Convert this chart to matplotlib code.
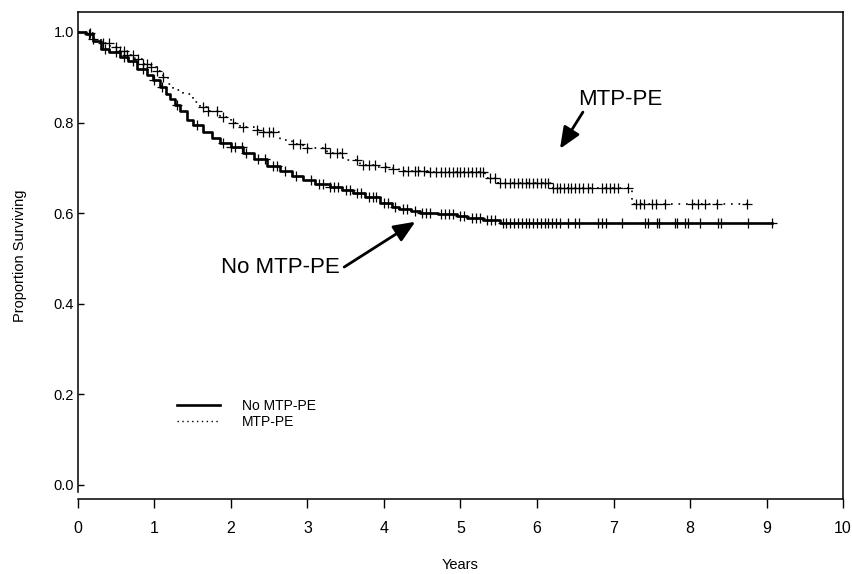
import numpy as np
import matplotlib.pyplot as plt
from matplotlib.lines import Line2D

plt.rcParams['font.family'] = ['Liberation Sans', 'DejaVu Sans']

# Kaplan-Meier step values (years, proportion surviving)
no_times = [0, 0.1, 0.2, 0.3, 0.4, 0.55, 0.65, 0.77, 0.9, 0.98, 1.07, 1.15, 1.2,
            1.27, 1.33, 1.42, 1.5, 1.63, 1.75, 1.86, 2.0, 2.16, 2.3, 2.47, 2.64,
            2.8, 2.94, 3.1, 3.29, 3.45, 3.6, 3.75, 3.95, 4.1, 4.2, 4.35, 4.47,
            4.7, 4.95, 5.09, 5.3, 5.52, 9.07]
no_surv = [1.0, 0.995, 0.98, 0.962, 0.955, 0.945, 0.935, 0.918, 0.905, 0.893,
           0.878, 0.862, 0.852, 0.838, 0.826, 0.806, 0.795, 0.778, 0.765, 0.755,
           0.745, 0.733, 0.72, 0.703, 0.694, 0.683, 0.673, 0.665, 0.658, 0.652,
           0.645, 0.635, 0.622, 0.614, 0.609, 0.604, 0.600, 0.597, 0.594, 0.590,
           0.585, 0.578, 0.578]

mtp_times = [0, 0.1, 0.2, 0.3, 0.42, 0.55, 0.64, 0.75, 0.85, 0.95, 1.03, 1.11,
             1.18, 1.24, 1.37, 1.5, 1.6, 1.69, 1.86, 2.0, 2.12, 2.3, 2.42, 2.64,
             2.8, 2.94, 3.25, 3.46, 3.69, 3.9, 4.12, 4.2, 4.6, 5.32, 5.49, 6.21,
             7.24, 8.75]
mtp_surv = [1.0, 0.998, 0.985, 0.975, 0.967, 0.958, 0.949, 0.94, 0.93, 0.922,
            0.914, 0.9, 0.885, 0.872, 0.862, 0.845, 0.835, 0.826, 0.812, 0.8,
            0.79, 0.783, 0.778, 0.762, 0.752, 0.744, 0.733, 0.717, 0.706, 0.702,
            0.698, 0.692, 0.690, 0.678, 0.667, 0.656, 0.620, 0.620]

# censoring times (+ marks)
no_cens = [0.15, 0.35, 0.5, 0.6, 0.72, 0.85, 1.0, 1.1, 1.3, 1.55, 1.9, 2.0, 2.05,
           2.15, 2.2, 2.35, 2.45, 2.55, 2.6, 2.7, 2.85, 3.05, 3.15, 3.2, 3.3,
           3.35, 3.4, 3.5, 3.55, 3.65, 3.7, 3.8, 3.85, 3.9, 4.0, 4.05, 4.15, 4.25,
           4.3, 4.4, 4.5, 4.55, 4.6, 4.75, 4.8, 4.85, 4.9, 5.0, 5.05, 5.15, 5.2,
           5.25, 5.35, 5.4, 5.45, 5.55, 5.6, 5.65, 5.7, 5.75, 5.8, 5.85, 5.9,
           5.95, 6.0, 6.05, 6.1, 6.15, 6.2, 6.25, 6.3, 6.4, 6.5, 6.55, 6.8, 6.85,
           6.9, 7.11, 7.41, 7.45, 7.57, 7.6, 7.8, 7.83, 7.93, 7.97, 8.13, 8.37,
           8.4, 8.76, 9.07]
mtp_cens = [0.16, 0.2, 0.33, 0.4, 0.5, 0.55, 0.6, 0.64, 0.72, 0.78, 0.85, 0.9,
            0.95, 1.03, 1.11, 1.63, 1.7, 1.82, 1.9, 2.03, 2.16, 2.34, 2.42, 2.5,
            2.55, 2.81, 2.9, 3.0, 3.23, 3.3, 3.38, 3.45, 3.65, 3.72, 3.8, 3.88,
            4.01, 4.12, 4.25, 4.32, 4.4, 4.45, 4.52, 4.6, 4.68, 4.75, 4.8, 4.85,
            4.9, 4.95, 5.0, 5.05, 5.1, 5.15, 5.2, 5.25, 5.29, 5.39, 5.45, 5.52,
            5.58, 5.65, 5.7, 5.75, 5.8, 5.85, 5.9, 5.95, 6.0, 6.05, 6.1, 6.15,
            6.21, 6.26, 6.3, 6.35, 6.4, 6.45, 6.5, 6.55, 6.6, 6.67, 6.72, 6.85,
            6.9, 6.95, 7.0, 7.06, 7.19, 7.3, 7.35, 7.4, 7.5, 7.55, 7.67, 8.03,
            8.1, 8.2, 8.35, 8.75]


def km_at(times, surv, t):
    idx = np.searchsorted(times, t, side='right') - 1
    return np.asarray(surv)[idx]


fig = plt.figure(figsize=(8.53, 5.74), dpi=100)
ax = fig.add_axes([0.0914, 0.1307, 0.8969, 0.8484])

ax.plot(no_times, no_surv, drawstyle='steps-post', color='black', lw=1.9)
ax.plot(mtp_times, mtp_surv, drawstyle='steps-post', color='black', lw=1.2,
        linestyle=(0, (1, 3.5)))
ax.plot(no_cens, km_at(no_times, no_surv, no_cens), linestyle='none',
        marker='+', ms=6.5, mew=0.9, color='black')
ax.plot(mtp_cens, km_at(mtp_times, mtp_surv, mtp_cens), linestyle='none',
        marker='+', ms=6.5, mew=0.9, color='black')

ax.set_xlim(0, 10)
ax.set_ylim(-0.031, 1.044)
ax.set_xticks(range(0, 11))
ax.set_yticks([0.0, 0.2, 0.4, 0.6, 0.8, 1.0])
ax.set_yticklabels(['0.0', '0.2', '0.4', '0.6', '0.8', '1.0'])
ax.tick_params(axis='y', direction='in', length=4, width=1, labelsize=10.5, pad=3)
ax.tick_params(axis='x', direction='out', length=6.5, width=1, labelsize=11.5, pad=9)
ax.spines['left'].set_bounds(-0.015, 1.044)
for s in ax.spines.values():
    s.set_linewidth(1.1)

ax.set_xlabel('Years', fontsize=10.5, labelpad=16)
ax.set_ylabel('Proportion Surviving', fontsize=10.5, labelpad=19)

arrow = dict(arrowstyle='-|>,head_length=1.3,head_width=0.55',
             color='black', lw=2, shrinkA=0, shrinkB=0)
ax.text(6.54, 0.85, 'MTP-PE', fontsize=16, va='center', ha='left')
ax.annotate('', xy=(6.3, 0.742), xytext=(6.6, 0.823), arrowprops=arrow)
ax.text(3.42, 0.479, 'No MTP-PE', fontsize=16, va='center', ha='right')
ax.annotate('', xy=(4.41, 0.581), xytext=(3.48, 0.481), arrowprops=arrow)

handles = [Line2D([], [], color='black', lw=1.9),
           Line2D([], [], color='black', lw=1.0, linestyle=(0, (1, 2.5)))]
ax.legend(handles, ['No MTP-PE', 'MTP-PE'], loc='upper left',
          bbox_to_anchor=(1.29, 0.19), bbox_transform=ax.transData,
          frameon=False, fontsize=10, handlelength=3.1, handletextpad=1.6,
          labelspacing=0.15, borderpad=0, borderaxespad=0)

fig.savefig('out.png', dpi=100)
